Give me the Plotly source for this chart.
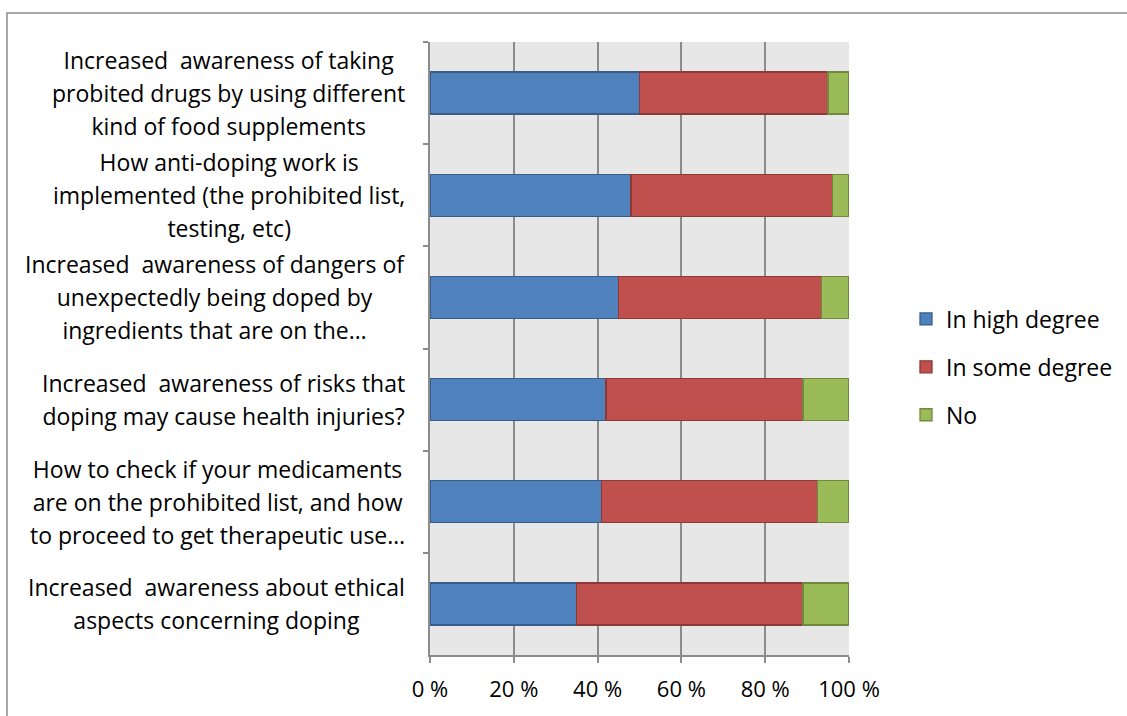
import plotly.graph_objects as go

# Survey statements, top to bottom (one list entry per printed line)
statements = [
    ["Increased \u00a0awareness of taking", "probited drugs by using different", "kind of food supplements"],
    ["How anti-doping work is", "implemented (the prohibited list,", "testing, etc)"],
    ["Increased \u00a0awareness of dangers of", "unexpectedly being doped by", "ingredients that are on the\u2026"],
    ["Increased \u00a0awareness of risks that", "doping may cause health injuries?"],
    ["How to check if your medicaments", "are on the prohibited list, and how", "to proceed to get therapeutic use\u2026"],
    ["Increased \u00a0awareness about ethical", "aspects concerning doping"],
]
categories = ["s1", "s2", "s3", "s4", "s5", "s6"]

# Share of answers (%)
high_degree = [50, 48, 45, 42, 41, 35]
some_degree = [45, 48, 48.5, 47, 51.5, 54]
no_answer = [5, 4, 6.5, 11, 7.5, 11]

x_ticks = [0, 20, 40, 60, 80, 100]
x_tick_labels = ["0\u00a0%", "20\u00a0%", "40\u00a0%", "60\u00a0%", "80\u00a0%", "100\u00a0%"]

series = [
    ("In high degree", high_degree, "#4f81bd", "#385d8a"),
    ("In some degree", some_degree, "#c0504d", "#8c3836"),
    ("No", no_answer, "#9bbb59", "#71893f"),
]

FONT = "'Open Sans', Lato, sans-serif"
TEXT_PX = 23          # glyph size of the category labels
LINE_PX = 33          # distance between label lines

fig = go.Figure()
for i, (name, vals, fill, edge) in enumerate(series):
    fig.add_trace(go.Bar(
        y=categories, x=vals, name=name, orientation="h",
        marker=dict(color=fill, line=dict(color=edge, width=1.3)),
        legendgroup=f"g{i}",
    ))

W, H = 1127, 716
L, R, T, B = 430, 278, 42, 61
pw, ph = W - L - R, H - T - B

annotations = []
for cat, lines in zip(categories, statements):
    # line pitch follows the annotation font size; glyphs use the span size
    text = "<br>".join(f"<span style='font-size:{TEXT_PX}px'>{ln}</span>" for ln in lines)
    annotations.append(dict(
        x=(407 - L) / pw, xref="paper", y=cat, yref="y",
        text=text, showarrow=False, xanchor="right", yanchor="middle",
        align="center", font=dict(family=FONT, size=LINE_PX / 1.3, color="#000000"),
    ))

fig.update_layout(
    width=W, height=H,
    margin=dict(l=L, r=R, t=T, b=B, pad=0, autoexpand=False),
    paper_bgcolor="#ffffff",
    plot_bgcolor="#e7e7e7",
    barmode="stack",
    bargap=0.59,
    font=dict(family=FONT, size=20, color="#000000"),
    showlegend=True,
    legend=dict(
        x=(906 - L) / pw, xanchor="left", y=(H - B - 367) / ph, yanchor="middle",
        traceorder="grouped", tracegroupgap=15,
        font=dict(family=FONT, size=23, color="#000000"),
        bgcolor="rgba(0,0,0,0)",
    ),
    annotations=annotations,
    shapes=[dict(
        type="rect", xref="paper", yref="paper",
        x0=(7 - L) / pw, x1=(W + 10 - L) / pw,
        y0=(H - B - (H + 10)) / ph, y1=(H - B - 13) / ph,
        line=dict(color="#8c8c8c", width=1.5), fillcolor="rgba(0,0,0,0)",
        layer="below",
    )],
)

fig.update_xaxes(
    range=[0, 100], tickvals=x_ticks, ticktext=x_tick_labels,
    showgrid=True, gridcolor="#8c8c8c", gridwidth=1.5,
    zeroline=False, showline=True, linecolor="#8c8c8c", linewidth=1.5,
    ticks="outside", ticklen=6, tickcolor="#8c8c8c", tickwidth=1.5,
    ticklabelstandoff=8,
    tickfont=dict(family=FONT, size=22, color="#000000"),
    fixedrange=True,
)
fig.update_yaxes(
    autorange="reversed", showticklabels=False, tickson="boundaries",
    ticks="outside", ticklen=5, tickcolor="#8c8c8c", tickwidth=1.5,
    showgrid=False, showline=True, linecolor="#8c8c8c", linewidth=1.5,
    zeroline=False, fixedrange=True,
)

fig.write_html("out.html")
